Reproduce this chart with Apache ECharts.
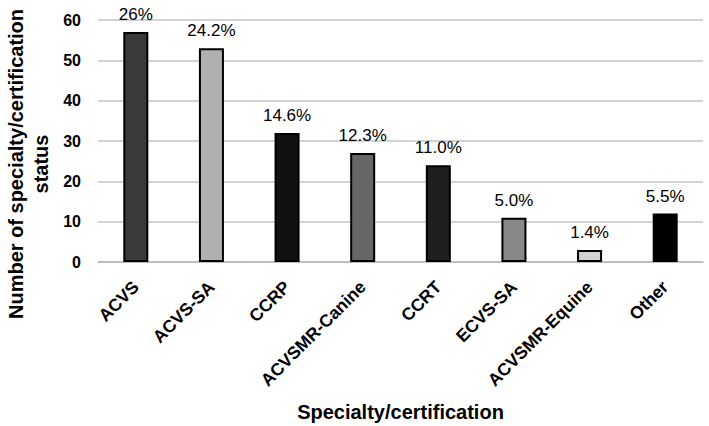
<!DOCTYPE html>
<html>
<head>
<meta charset="utf-8">
<script src="https://cdn.jsdelivr.net/npm/echarts@6/dist/echarts.min.js"></script>
<style>
  html, body { margin: 0; padding: 0; background: #fff; }
  #chart { width: 709px; height: 426px; }
</style>
</head>
<body>
<div id="chart"></div>
<script>
// specialty/certification counts
var categories = ['ACVS', 'ACVS-SA', 'CCRP', 'ACVSMR-Canine', 'CCRT', 'ECVS-SA', 'ACVSMR-Equine', 'Other'];
var counts = [57, 53, 32, 27, 24, 11, 3, 12];
var percents = ['26%', '24.2%', '14.6%', '12.3%', '11.0%', '5.0%', '1.4%', '5.5%'];
var barColors = ['#3a3a3a', '#b0b0b0', '#111111', '#666666', '#1e1e1e', '#888888', '#d2d2d2', '#000000'];
var yTicks = [0, 10, 20, 30, 40, 50, 60];
var yTitle = 'Number of specialty/certification\nstatus';

(function () {
  var font = 'Liberation Sans, Arial, sans-serif';
  var chart = echarts.init(document.getElementById('chart'), null, { renderer: 'svg' });

  chart.setOption({
    animation: false,
    grid: { left: 98, right: 6, top: 20, bottom: 164, outerBoundsMode: 'none' },
    // y title sits a bit below the axis middle, as in the source figure
    graphic: [{
      type: 'text',
      x: 28,
      y: 164,
      rotation: Math.PI / 2,
      style: {
        text: yTitle,
        fill: '#000',
        font: 'bold 20px ' + font,
        lineHeight: 25,
        align: 'center',
        verticalAlign: 'middle'
      }
    }],
    xAxis: {
      type: 'category',
      data: categories,
      name: 'Specialty/certification',
      nameLocation: 'middle',
      nameGap: 140,
      nameTextStyle: { color: '#000', fontSize: 20, fontWeight: 'bold', fontFamily: font },
      axisLine: { lineStyle: { color: '#b8b8b8', width: 1.5 } },
      axisTick: { show: false },
      axisLabel: {
        color: '#000', fontSize: 17.5, fontWeight: 'bold', fontFamily: font,
        rotate: 45, interval: 0, margin: 22
      }
    },
    yAxis: {
      type: 'value',
      min: yTicks[0],
      max: yTicks[yTicks.length - 1],
      interval: 10,
      axisLine: { show: false },
      axisTick: { show: false },
      splitLine: { lineStyle: { color: '#c4c4c4', width: 1.5 } },
      axisLabel: { color: '#000', fontSize: 16, fontWeight: 'bold', fontFamily: font, margin: 17 }
    },
    series: [{
      type: 'bar',
      barWidth: 25,
      data: counts.map(function (v, i) {
        return { value: v, itemStyle: { color: barColors[i], borderColor: '#000', borderWidth: 2 } };
      }),
      label: {
        show: true,
        position: 'top',
        distance: 9,
        color: '#000',
        fontSize: 17,
        fontFamily: font,
        formatter: function (p) { return percents[p.dataIndex]; }
      }
    }]
  });
})();
</script>
</body>
</html>
